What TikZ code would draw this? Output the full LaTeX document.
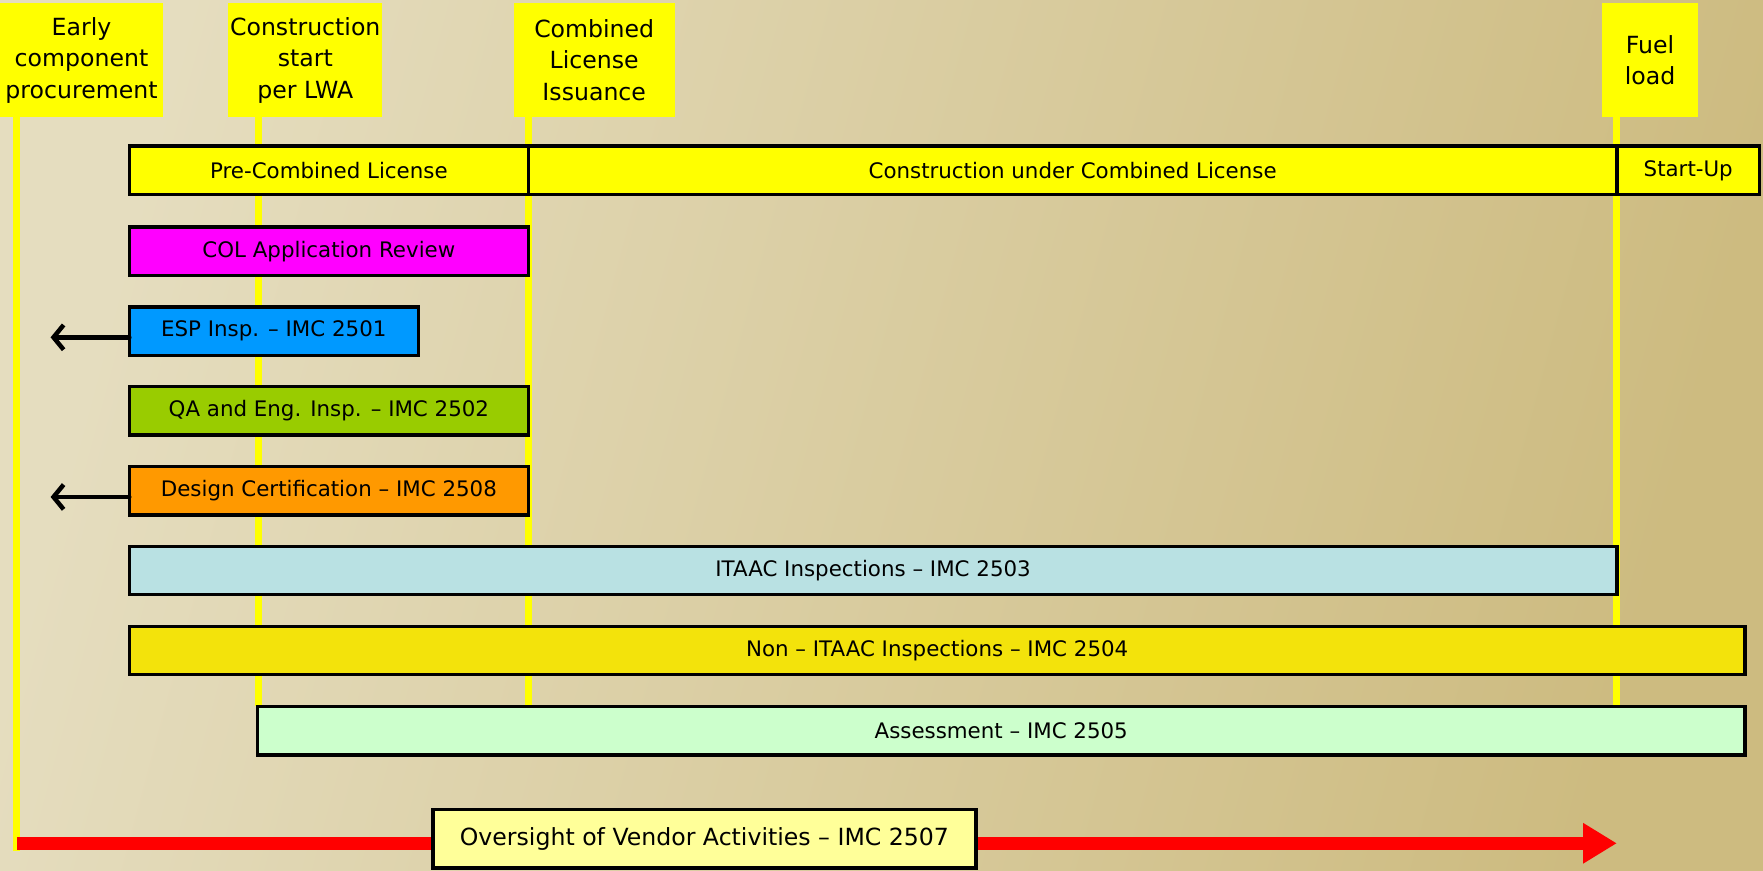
\documentclass[tikz,border=0pt]{standalone}
\usepackage{fontspec}
\setmainfont{DejaVu Sans}
\usetikzlibrary{arrows.meta,positioning}

\definecolor{mileyellow}{HTML}{FFFF00}
\definecolor{colmag}{HTML}{FF00FF}
\definecolor{espblue}{HTML}{0099FF}
\definecolor{qagreen}{HTML}{99CC00}
\definecolor{dcorange}{HTML}{FF9900}
\definecolor{itaacblue}{HTML}{B9E1E3}
\definecolor{nonitaac}{HTML}{F3E30B}
\definecolor{assessgreen}{HTML}{CCFFCC}
\definecolor{vendyellow}{HTML}{FFFF99}
\definecolor{bgleft}{HTML}{E5DDBF}
\definecolor{bgright}{HTML}{CDBB80}

\begin{document}
\begin{tikzpicture}
[x=1pt,y=-1pt,font=\fontsize{19}{28}\selectfont,
 milestone/.style={fill=mileyellow,inner sep=0pt,align=center,minimum height=101pt,font=\fontsize{21}{28}\selectfont},
 bar/.style={draw=black,line width=3pt,minimum height=43pt,inner sep=0pt,outer sep=0pt,anchor=west},
 tick/.style={mileyellow,line width=6pt},
 back/.style={black,line width=4pt,line cap=round,-{Straight Barb[length=9pt,width=22pt]}},
 vendor/.style={red,line width=12pt,-{Triangle[length=30pt,width=34pt]}}]
\shade[left color=bgleft,right color=bgright,shading angle=75] (0,0) rectangle (1568,774);

% milestones
\node[milestone,minimum width=145pt] (early) at (72.5,53.5) {Early\\component\\procurement};
\node[milestone,minimum width=137pt] (lwa) at (271.5,53.5) {Construction\\start\\per LWA};
\node[milestone,minimum width=143pt] (colissue) at (528.5,53.5) {Combined\\License\\Issuance};
\node[milestone,minimum width=85pt] (fuel) at (1467.5,53.5) {Fuel\\load};

\coordinate (earlyend) at (15,757);
\coordinate (lwaend) at (230,628);
\coordinate (colend) at (470,628);
\coordinate (fuelend) at (1438,628);
\draw[tick] (early.south -| earlyend) -- (earlyend);
\draw[tick] (lwa.south -| lwaend) -- (lwaend);
\draw[tick] (colissue.south -| colend) -- (colend);
\draw[tick] (fuel.south -| fuelend) -- (fuelend);

% phases
\node[bar,fill=mileyellow,minimum width=355pt] (pre) at (115,151.5) {Pre-Combined License};
\node[bar,fill=mileyellow,minimum width=968pt,right=0pt of pre] (constr) {Construction under Combined License};
\node[bar,fill=mileyellow,minimum width=127pt,right=0pt of constr] (startup) {Start-Up};

% inspection programs
\node[bar,fill=colmag,minimum width=355pt] (colrev) at (115,223.5) {COL Application Review};
\node[bar,fill=espblue,minimum width=257pt] (esp) at (115,294.5) {ESP Insp. – IMC 2501};
\node[bar,fill=qagreen,minimum width=355pt] (qa) at (115,365.5) {QA and Eng. Insp. – IMC 2502};
\node[bar,fill=dcorange,minimum width=355pt] (dc) at (115,436.5) {Design Certification – IMC 2508};
\node[bar,fill=itaacblue,minimum width=1323pt] (itaac) at (115,507.5) {ITAAC Inspections – IMC 2503};
\node[bar,fill=nonitaac,minimum width=1437pt] (nonitaac) at (115,578.5) {Non – ITAAC Inspections – IMC 2504};
\node[bar,fill=assessgreen,minimum width=1323pt] (assess) at (229,650) {Assessment – IMC 2505};

\coordinate (espto) at (45,300);
\coordinate (dcto) at (45,442);
\draw[back] (esp.west |- espto) -- (espto);
\draw[back] (dc.west |- dcto) -- (dcto);

% vendor oversight
\coordinate (vendend) at (1438,750);
\draw[vendor] (earlyend |- vendend) -- (vendend);
\node[draw=black,line width=3pt,fill=vendyellow,minimum width=483pt,minimum height=52pt,inner sep=0pt,font=\fontsize{21}{28}\selectfont] (vendor) at (626.5,746) {Oversight of Vendor Activities – IMC 2507};
\end{tikzpicture}
\end{document}
